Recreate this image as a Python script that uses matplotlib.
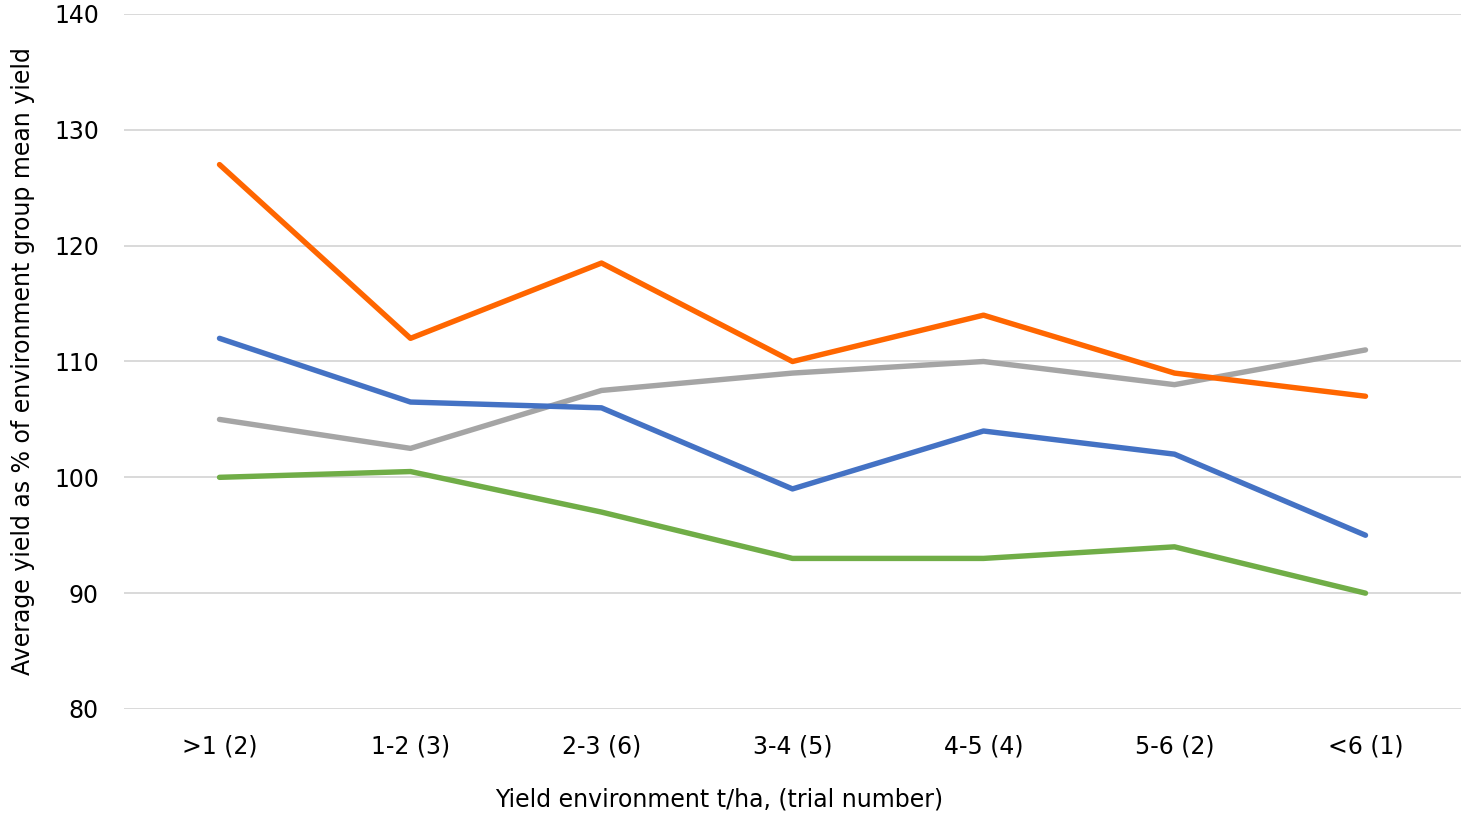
import numpy as np
import matplotlib.pyplot as plt

categories = [">1 (2)", "1-2 (3)", "2-3 (6)", "3-4 (5)", "4-5 (4)", "5-6 (2)", "<6 (1)"]
orange_vals = [127, 112, 118.5, 110, 114, 109, 107]
blue_vals = [112, 106.5, 106, 99, 104, 102, 95]
gray_vals = [105, 102.5, 107.5, 109, 110, 108, 111]
green_vals = [100, 100.5, 97, 93, 93, 94, 90]

series = [
    (green_vals, "#70AD47"),
    (gray_vals, "#A5A5A5"),
    (blue_vals, "#4472C4"),
    (orange_vals, "#FF6600"),
]

font_size = 17
plt.rcParams['font.family'] = ['DejaVu Sans']
plt.rcParams['font.size'] = font_size

fig = plt.figure(figsize=(14.69, 8.22), dpi=100)
ax = fig.add_axes([124 / 1469, 1 - 709 / 822, (1461 - 124) / 1469, (709 - 14) / 822])

x = np.arange(len(categories))
for vals, color in series:
    ax.plot(x, vals, color=color, linewidth=3.9, solid_capstyle="round",
            solid_joinstyle="round", zorder=3)

ax.set_xlim(-0.5, len(categories) - 0.5)
ax.set_ylim(80, 140)
ax.set_yticks(np.arange(80, 141, 10))
ax.set_xticks(x)
ax.set_xticklabels(categories)
ax.grid(axis="y", color="#D9D9D9", linewidth=1.4, zorder=0)
for side in ["top", "right", "left", "bottom"]:
    ax.spines[side].set_visible(False)
ax.tick_params(axis="both", length=0, labelsize=font_size, colors="#000000")
ax.tick_params(axis="x", pad=18)
ax.tick_params(axis="y", pad=18)

ax.set_xlabel("Yield environment t/ha, (trial number)", fontsize=font_size)
ax.xaxis.set_label_coords(0.445, -0.113)
ax.set_ylabel("Average yield as % of environment group mean yield", fontsize=font_size, labelpad=14)

fig.savefig("out.png", dpi=100)
